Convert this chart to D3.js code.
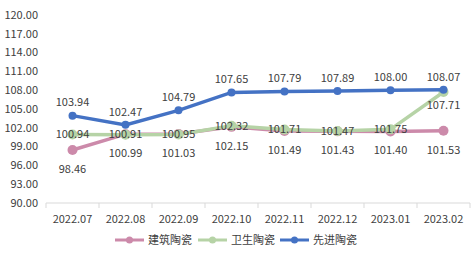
<!DOCTYPE html>
<html lang="zh">
<head>
<meta charset="UTF-8">
<script src="https://d3js.org/d3.v7.min.js"></script>
<style>
    body { margin: 0; background: #fff; }
    text { font-family: "Noto Sans CJK SC", "Noto Sans", sans-serif; fill: #404040; }
</style>
</head>
<body>
<svg class="chart"></svg>
<script>
    // Data
    const months = ["2022.07", "2022.08", "2022.09", "2022.10", "2022.11", "2022.12", "2023.01", "2023.02"];
    const jianzhu = [98.46, 100.99, 101.03, 102.15, 101.49, 101.43, 101.40, 101.53];
    const weisheng = [100.94, 100.91, 100.95, 102.32, 101.71, 101.47, 101.75, 107.71];
    const xianjin = [103.94, 102.47, 104.79, 107.65, 107.79, 107.89, 108.00, 108.07];
    const seriesNames = ["建筑陶瓷", "卫生陶瓷", "先进陶瓷"];
    const yTicks = [90, 93, 96, 99, 102, 105, 108, 111, 114, 117, 120];

    const width = 474, height = 259;
    const margin = { top: 15, right: 4, bottom: 56, left: 46 };

    const svg = d3.select(".chart").attr("width", width).attr("height", height);

    const x = d3.scaleBand().domain(months).range([margin.left, width - margin.right]);
    const y = d3.scaleLinear().domain([90, 120]).range([height - margin.bottom, margin.top]);

    // y axis labels
    svg.selectAll(".ylab")
        .data(yTicks)
        .join("text")
        .attr("x", 38)
        .attr("y", d => y(d))
        .attr("dy", "0.35em")
        .attr("text-anchor", "end")
        .attr("font-size", "11px")
        .text(d => d.toFixed(2));

    // x axis
    const xAxis = svg.append("g").attr("transform", `translate(0,${y(90)})`);
    xAxis.append("line")
        .attr("x1", margin.left).attr("x2", width - margin.right)
        .attr("stroke", "#d9d9d9");
    xAxis.selectAll(".tick")
        .data(months.concat(["end"]))
        .join("line")
        .attr("x1", (d, i) => margin.left + i * x.bandwidth())
        .attr("x2", (d, i) => margin.left + i * x.bandwidth())
        .attr("y1", 0).attr("y2", 5)
        .attr("stroke", "#d9d9d9");
    xAxis.selectAll(".xlab")
        .data(months)
        .join("text")
        .attr("x", d => x(d) + x.bandwidth() / 2)
        .attr("y", 20)
        .attr("text-anchor", "middle")
        .attr("font-size", "11px")
        .text(d => d);

    const cx = d => x(d) + x.bandwidth() / 2;
    const series = [
        { name: seriesNames[0], values: jianzhu, color: "#cc8aaa", r: 5 },
        { name: seriesNames[1], values: weisheng, color: "#b6d3a6", r: 5 },
        { name: seriesNames[2], values: xianjin, color: "#4472c4", r: 4 }
    ];

    const line = d3.line().x((d, i) => cx(months[i])).y(d => y(d));

    series.forEach(s => {
        svg.append("path")
            .datum(s.values)
            .attr("d", line)
            .attr("fill", "none")
            .attr("stroke", s.color)
            .attr("stroke-width", 3.5);
        svg.selectAll(null)
            .data(s.values)
            .join("circle")
            .attr("cx", (d, i) => cx(months[i]))
            .attr("cy", d => y(d))
            .attr("r", s.r)
            .attr("fill", s.color);
    });

    // Data labels
    function labels(values, dy) {
        svg.selectAll(null)
            .data(values)
            .join("text")
            .attr("x", (d, i) => cx(months[i]))
            .attr("y", (d, i) => y(d) + dy(d, i))
            .attr("dy", "0.35em")
            .attr("text-anchor", "middle")
            .attr("font-size", "11px")
            .text(d => d.toFixed(2));
    }
    labels(jianzhu, () => 19);
    labels(weisheng, (d, i) => i === weisheng.length - 1 ? 13 : 0);
    labels(xianjin, () => -13);

    // Legend
    const legendX = [115, 198, 280];
    const legend = svg.selectAll(".legend")
        .data(series)
        .join("g")
        .attr("transform", (d, i) => `translate(${legendX[i]},240)`);
    legend.append("line")
        .attr("x1", 0).attr("x2", 29)
        .attr("stroke", d => d.color)
        .attr("stroke-width", 3);
    legend.append("circle")
        .attr("cx", 14.5).attr("r", 3.5)
        .attr("fill", d => d.color);
    legend.append("text")
        .attr("x", 33)
        .attr("dy", "0.35em")
        .attr("font-size", "11px")
        .text(d => d.name);
</script>
</body>
</html>
